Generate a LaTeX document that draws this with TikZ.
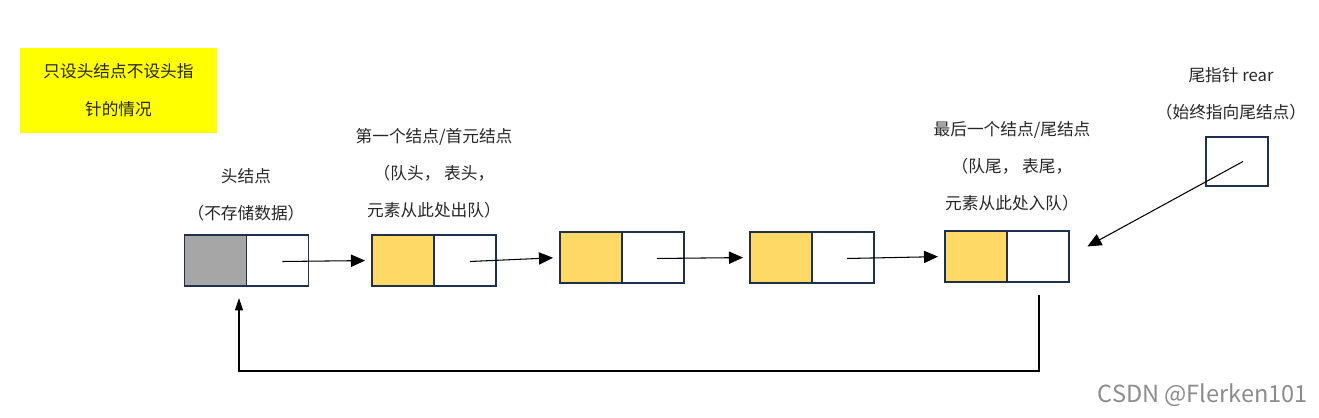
\documentclass[tikz,border=0pt]{standalone}
\usepackage{fontspec}
\newfontfamily\cjk{Noto Sans CJK SC}
\usetikzlibrary{arrows.meta,calc,positioning}

\definecolor{boxblue}{HTML}{1F2F4E}
\definecolor{datayellow}{HTML}{FFD966}
\definecolor{headgray}{HTML}{A6A6A6}
\definecolor{notebg}{HTML}{FFFF00}

\tikzset{
    cell/.style={draw=boxblue, line width=1.1pt, fill=white, inner sep=0pt, outer sep=0pt,
        minimum width=1.24cm, minimum height=1.02cm},
    datacell/.style={cell, fill=datayellow},
    headcell/.style={cell, fill=headgray},
    lbl/.style={align=center, text=black!85, font=\cjk\fontsize{9.5}{21}\selectfont},
    link/.style={-{Triangle[length=8pt,width=7pt]}, line width=0.6pt},
    backlink/.style={-{Triangle[length=7pt,width=4.5pt]}, line width=0.8pt}
}

\begin{document}
\begin{tikzpicture}[x=0.02cm, y=-0.02cm]

    % --- Page frame (pixel grid of the reference) ---
    \useasboundingbox (0,0) rectangle (1319,418);

    % --- Note box ---
    \node[lbl, fill=notebg, minimum width=3.94cm, minimum height=1.7cm,
        font=\cjk\fontsize{9.5}{21.5}\selectfont] (note) at (118.5,90.5)
        {只设头结点不设头指\\针的情况};

    % --- Head node ---
    \node[headcell] (d1) at (215.5,260.5) {};
    \node[cell, right=0pt of d1] (p1) {};

    % --- Data nodes ---
    \node[datacell] (d2) at (403,260.5) {};
    \node[cell, right=0pt of d2] (p2) {};
    \node[datacell] (d3) at (591,257.5) {};
    \node[cell, right=0pt of d3] (p3) {};
    \node[datacell] (d4) at (781,257.5) {};
    \node[cell, right=0pt of d4] (p4) {};
    \node[datacell] (d5) at (976,256.5) {};
    \node[cell, right=0pt of d5] (p5) {};

    % --- Rear pointer ---
    \node[cell, minimum height=0.98cm] (rear) at (1237,161.5) {};

    % --- Labels ---
    \node[lbl] (headlbl) at (246,194.5) {头结点\\（不存储数据）};
    \node[lbl] (firstlbl) at (434,173) {第一个结点/首元结点\\（队头， 表头，\\元素从此处出队）};
    \node[lbl] (lastlbl) at (1012,166) {最后一个结点/尾结点\\（队尾， 表尾，\\元素从此处入队）};
    \node[lbl] (rearlbl) at (1231,93.5) {尾指针 rear\\（始终指向尾结点）};

    % --- Next pointers ---
    \draw[link, shorten >=0.14cm] ($(p1.center)+(5,1)$) -- (d2.west);
    \draw[link, shorten >=0.14cm] ($(p2.center)+(5,1)$) -- (d3.west);
    \draw[link, shorten >=0.14cm] ($(p3.center)+(4,1)$) -- (d4.west);
    \draw[link, shorten >=0.14cm] ($(p4.center)+(4,1)$) -- (d5.west);

    % --- rear -> tail ---
    \draw[link, shorten >=0.42cm] ($(rear.center)+(6,0)$) -- (p5.east);

    % --- Tail back to head ---
    \coordinate (loopend) at ($(d1.south)+(23.5,12)$);
    \draw[backlink] ($(p5.south)+(1,13)$) -- ++(0,76) -| (loopend);

    % --- Watermark ---
    \node[text=black!45, font=\cjk\fontsize{13.4}{15}\selectfont, anchor=east] (mark)
        at (1314,395) {CSDN @Flerken101};

\end{tikzpicture}
\end{document}
